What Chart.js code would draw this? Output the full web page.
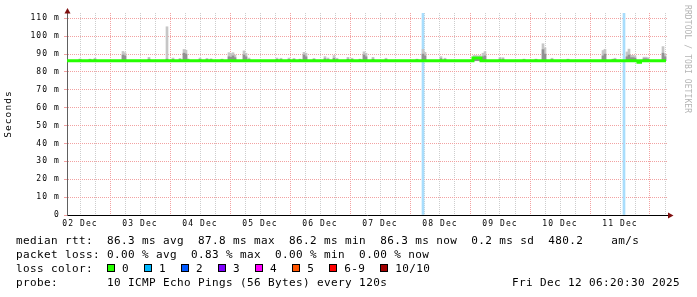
<!DOCTYPE html>
<html>
<head>
<meta charset="utf-8">
<script src="https://cdn.jsdelivr.net/npm/chart.js@4.4.1/dist/chart.umd.min.js"></script>
<style>
html, body { margin: 0; padding: 0; background: #fff; }
#wrap { position: relative; width: 697px; height: 297px; overflow: hidden; }
#smoke { position: absolute; left: 0; top: 0; }
.row { position: absolute; left: 16px; height: 14px; font: 11px "DejaVu Sans Mono", monospace;
       letter-spacing: 0.38px; line-height: 14px; white-space: pre; color: #000; }
.box { display: inline-block; width: 6px; height: 6px; border: 1px solid #000; margin-right: 7px; }
.item { margin-right: 15px; }
</style>
</head>
<body>
<div id="wrap">
  <canvas id="smoke" width="697" height="297"></canvas>
  <div class="row" style="top:234px">median rtt:  86.3 ms avg  87.8 ms max  86.2 ms min  86.3 ms now  0.2 ms sd  480.2    am/s</div>
  <div class="row" style="top:248px">packet loss: 0.00 % avg  0.83 % max  0.00 % min  0.00 % now</div>
  <div class="row" id="lossrow" style="top:262px">loss color:  </div>
  <div class="row" style="top:276px">probe:       10 ICMP Echo Pings (56 Bytes) every 120s</div>
  <div class="row" style="top:276px;left:512px">Fri Dec 12 06:20:30 2025</div>
</div>
<script>
// time axis in hours from the left edge of the graph (10 days)
var dayLabels = ['02 Dec', '03 Dec', '04 Dec', '05 Dec', '06 Dec', '07 Dec', '08 Dec', '09 Dec', '10 Dec', '11 Dec'];
var firstLabelHour = 5.2;
var spanHours = 240;
var yMax = 113;

// median rtt (ms), value held from each change point
var medianHours = [0, 162.4, 165.6, 228.4, 229.4, 239.6];
var medianMs = [86.3, 87.8, 86.3, 85.5, 86.3, 86.3];
var medianBase = 86.3;

// smoke: spread of the pings around the median (ms)
var smokeHours = [5.2, 9.2, 11.2, 22.4, 23.2, 32.8, 40.0, 42.4, 45.2, 46.8,
  47.6, 48.4, 53.2, 56.0, 57.6, 62.0, 64.8, 65.6, 66.4, 67.2,
  70.8, 71.6, 72.8, 84.0, 85.6, 88.8, 90.8, 93.2, 94.8, 95.6,
  98.8, 103.2, 104.4, 106.8, 108.0, 112.4, 114.0, 117.2, 118.8, 119.6,
  122.4, 127.6, 140.0, 142.4, 143.2, 149.6, 151.2, 162.8, 163.6, 164.4,
  165.2, 166.4, 167.2, 173.2, 174.4, 182.8, 187.6, 190.4, 191.2, 194.0,
  200.4, 214.4, 215.2, 218.4, 219.2, 224.0, 224.8, 225.6, 226.4, 227.2,
  230.8, 231.6, 232.4, 238.4, 239.2];
var smokeHigh = [87.3, 87.2, 87.7, 91.5, 90.8, 88.2, 105.3, 87.8, 87.6, 92.6,
  92.2, 87.3, 87.8, 87.6, 87.4, 87.2, 90.8, 90.3, 90.8, 89.5,
  91.8, 90.5, 87.8, 87.8, 87.7, 87.8, 87.6, 87.2, 91.0, 90.5,
  87.6, 88.6, 87.8, 89.2, 87.7, 88.2, 87.7, 87.2, 91.3, 90.5,
  88.2, 87.7, 87.2, 92.7, 91.0, 88.6, 87.7, 89.2, 89.2, 89.0,
  89.2, 90.5, 91.4, 88.2, 88.0, 87.2, 87.2, 95.8, 93.5, 87.7,
  87.2, 92.0, 92.7, 87.2, 87.7, 91.2, 92.8, 89.3, 89.3, 89.0,
  88.3, 88.3, 88.0, 94.2, 90.0];
var smokeMid = [86.9, 86.9, 87.0, 89.5, 89.0, 87.2, 87.2, 87.0, 87.0, 90.5,
  90.0, 86.9, 87.0, 87.0, 86.9, 86.9, 88.5, 88.2, 89.0, 88.0,
  89.5, 88.5, 87.0, 87.0, 87.0, 87.0, 87.0, 86.9, 89.5, 88.5,
  87.0, 87.4, 87.0, 87.6, 87.0, 87.2, 87.0, 86.9, 89.5, 88.5,
  87.2, 87.0, 86.9, 90.0, 89.0, 87.4, 87.0, 88.0, 88.0, 88.0,
  88.0, 88.5, 89.0, 87.2, 87.2, 86.9, 86.9, 92.5, 90.0, 87.0,
  86.9, 89.0, 90.0, 86.9, 87.0, 88.5, 89.5, 88.0, 88.0, 87.8,
  87.4, 87.4, 87.2, 90.5, 88.5];

// packet loss events (1/10 lost)
var lossHours = [142.4, 222.8];

var lossLabels = ['0', '1', '2', '3', '4', '5', '6-9', '10/10'];
var lossColors = ['#26ff00', '#00b8ff', '#0059ff', '#7e00ff', '#ff00ff', '#ff5500', '#ff0000', '#a10000'];

var lossRow = document.getElementById('lossrow');
lossLabels.forEach(function (l, i) {
  var s = document.createElement('span');
  s.className = 'item';
  s.innerHTML = '<span class="box" style="background:' + lossColors[i] + '"></span>' + l;
  lossRow.appendChild(s);
});

var tickHours = [];
for (var t = firstLabelHour; t < spanHours; t += 6) tickHours.push(t);

var majorRed = '#f2a2a2';
var minorGray = '#cdcdcd';
var monoFont = 'DejaVu Sans Mono';

var rrdDecor = {
  id: 'rrdDecor',
  beforeDraw: function (chart) {
    chart.ctx.letterSpacing = '1.1px';
  },
  afterDraw: function (chart) {
    var ctx = chart.ctx, a = chart.chartArea;
    ctx.save();
    ctx.fillStyle = '#7f0f0f';
    ctx.beginPath();
    ctx.moveTo(a.left + 0.5, a.top - 5);
    ctx.lineTo(a.left - 2.5, a.top + 0.5);
    ctx.lineTo(a.left + 3.5, a.top + 0.5);
    ctx.closePath();
    ctx.fill();
    ctx.beginPath();
    ctx.moveTo(a.right + 6.5, a.bottom + 0.5);
    ctx.lineTo(a.right + 1, a.bottom - 2.5);
    ctx.lineTo(a.right + 1, a.bottom + 3.5);
    ctx.closePath();
    ctx.fill();
    // watermark
    ctx.letterSpacing = '0.1px';
    ctx.translate(687, 5);
    ctx.rotate(Math.PI / 2);
    ctx.fillStyle = '#b4b4b4';
    ctx.font = '8px "DejaVu Sans Mono"';
    ctx.textBaseline = 'middle';
    ctx.fillText('RRDTOOL / TOBI OETIKER', 0, 0);
    ctx.restore();
  }
};

new Chart(document.getElementById('smoke'), {
  type: 'line',
  data: {
    datasets: [{
      type: 'line',
      label: 'median rtt',
      data: medianHours.map(function (h, i) { return {x: h, y: medianMs[i]}; }),
      borderColor: '#26ff00',
      borderWidth: 3,
      pointRadius: 0,
      stepped: 'before',
      order: 0
    }, {
      type: 'bar',
      label: 'smoke core',
      data: smokeHours.map(function (h, i) { return {x: h, y: [medianBase, smokeMid[i]]}; }),
      backgroundColor: '#919191',
      barThickness: 2,
      grouped: false,
      order: 1
    }, {
      type: 'bar',
      label: 'smoke',
      data: smokeHours.map(function (h, i) { return {x: h, y: [medianBase, smokeHigh[i]]}; }),
      backgroundColor: '#c6c6c6',
      barThickness: 2,
      grouped: false,
      order: 2
    }, {
      type: 'bar',
      label: 'loss',
      data: lossHours.map(function (h) { return {x: h, y: [0, yMax]}; }),
      backgroundColor: '#a8ddfc',
      barThickness: 2,
      grouped: false,
      order: 3
    }]
  },
  options: {
    responsive: false,
    animation: false,
    devicePixelRatio: 1,
    layout: {padding: {left: 0, top: 13, right: 30, bottom: 0}},
    plugins: {legend: {display: false}, tooltip: {enabled: false}},
    scales: {
      x: {
        type: 'linear',
        min: 0,
        max: spanHours,
        offset: false,
        afterBuildTicks: function (s) { s.ticks = tickHours.map(function (v) { return {value: v}; }); },
        afterFit: function (s) { s.height = 82; },
        grid: {
          offset: false,
          drawTicks: false,
          color: function (c) { return c.index % 4 === 2 ? majorRed : minorGray; }
        },
        border: {color: '#000', dash: [1, 1]},
        ticks: {
          autoSkip: false,
          maxRotation: 0,
          padding: 4,
          color: '#000',
          font: {family: monoFont, size: 8},
          callback: function (v, i) { return i % 4 === 0 ? dayLabels[i / 4] : ''; }
        }
      },
      y: {
        min: 0,
        max: yMax,
        afterBuildTicks: function (s) {
          var out = [];
          for (var v = 0; v <= 110; v += 5) out.push({value: v});
          s.ticks = out;
        },
        afterFit: function (s) { s.width = 67; },
        grid: {
          tickLength: 3,
          color: function (c) { return c.tick.value % 10 === 0 ? majorRed : minorGray; },
          tickColor: function (c) { return c.tick.value % 10 === 0 ? majorRed : minorGray; }
        },
        border: {color: '#606060', dash: [1, 1]},
        ticks: {
          padding: 4,
          color: '#000',
          font: {family: monoFont, size: 8},
          callback: function (v) { return v % 10 !== 0 ? '' : (v === 0 ? '0' : v + ' m'); }
        },
        title: {
          display: true,
          text: 'Seconds',
          color: '#000',
          padding: {top: 3, bottom: 0},
          font: {family: monoFont, size: 9.5}
        }
      }
    }
  },
  plugins: [rrdDecor]
});
</script>
</body>
</html>
